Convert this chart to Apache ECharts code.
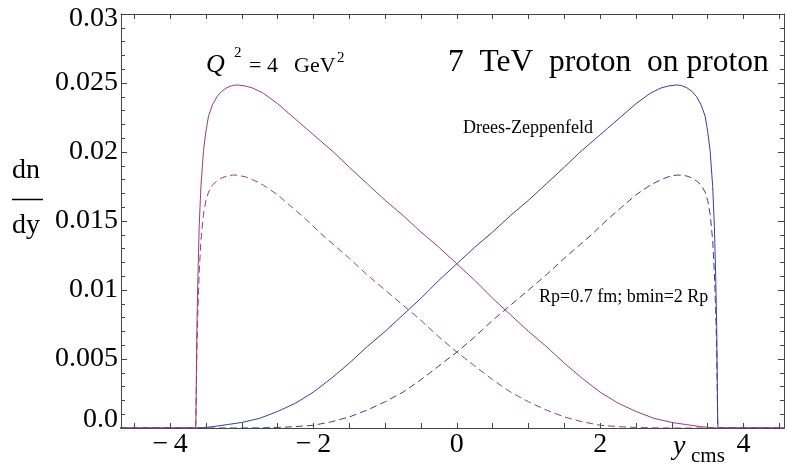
<!DOCTYPE html>
<html>
<head>
<meta charset="utf-8">
<script src="https://cdn.jsdelivr.net/npm/echarts@6/dist/echarts.min.js"></script>
<style>html,body{margin:0;padding:0;background:#fff;}#c{width:787px;height:470px;}</style>
</head>
<body>
<div id="c"></div>
<script>
// ---- data ----
const xRed = [-4.7, -3.645, -3.64, -3.633, -3.626, -3.612, -3.594, -3.57, -3.534, -3.50, -3.464, -3.41, -3.347, -3.28, -3.208, -3.13, -3.06, -2.95, -2.85, -2.7, -2.5, -2.3, -2.1, -1.9, -1.7, -1.5, -1.25, -1.0, -0.75, -0.5, -0.25, 0, 0.25, 0.5, 0.75, 1.0, 1.25, 1.5, 1.75, 2.0, 2.25, 2.5, 2.75, 3.0, 3.2, 3.4, 3.55, 3.64, 4.7];
const redSolid = [0, 0, 0.0005, 0.004, 0.0073, 0.011, 0.0146, 0.0175, 0.0201, 0.0215, 0.0226, 0.0234, 0.0240, 0.0244, 0.02466, 0.02482, 0.02486, 0.02478, 0.02464, 0.02426, 0.02350, 0.0226, 0.0217, 0.0208, 0.0199, 0.0189, 0.0177, 0.0165, 0.0154, 0.0142, 0.0131, 0.0119, 0.0107, 0.0094, 0.0082, 0.0070, 0.0059, 0.0047, 0.0036, 0.0026, 0.0018, 0.0012, 0.0007, 0.0004, 0.00025, 0.0001, 0.00003, 0, 0];
const redDashed = [0, 0, 0.0004, 0.003, 0.0055, 0.0085, 0.0112, 0.0136, 0.0155, 0.0165, 0.0171, 0.0176, 0.0179, 0.01812, 0.01826, 0.01833, 0.01832, 0.0182, 0.0180, 0.0176, 0.0169, 0.0160, 0.0151, 0.0141, 0.0132, 0.0123, 0.0111, 0.0100, 0.0089, 0.0078, 0.0066, 0.0055, 0.0045, 0.0035, 0.0026, 0.0019, 0.0013, 0.0008, 0.00045, 0.0002, 0.0001, 0.00004, 0.00001, 0, 0, 0, 0, 0, 0];
const xBlue = [-4.7, -3.64, -3.55, -3.4, -3.2, -3.0, -2.75, -2.5, -2.25, -2.0, -1.75, -1.5, -1.25, -1.0, -0.75, -0.5, -0.25, 0, 0.25, 0.5, 0.75, 1.0, 1.25, 1.5, 1.7, 1.9, 2.1, 2.3, 2.5, 2.7, 2.85, 2.95, 3.06, 3.13, 3.208, 3.28, 3.347, 3.41, 3.464, 3.50, 3.534, 3.57, 3.594, 3.612, 3.626, 3.633, 3.64, 3.645, 4.7];
const blueSolid = [0, 0, 0.00003, 0.0001, 0.00025, 0.0004, 0.0007, 0.0012, 0.0018, 0.0026, 0.0036, 0.0047, 0.0059, 0.0070, 0.0082, 0.0094, 0.0107, 0.0119, 0.0131, 0.0142, 0.0154, 0.0165, 0.0177, 0.0189, 0.0199, 0.0208, 0.0217, 0.0226, 0.02350, 0.02426, 0.02464, 0.02478, 0.02486, 0.02482, 0.02466, 0.0244, 0.0240, 0.0234, 0.0226, 0.0215, 0.0201, 0.0175, 0.0146, 0.011, 0.0073, 0.004, 0.0005, 0, 0];
const blueDashed = [0, 0, 0, 0, 0, 0, 0.00001, 0.00004, 0.0001, 0.0002, 0.00045, 0.0008, 0.0013, 0.0019, 0.0026, 0.0035, 0.0045, 0.0055, 0.0066, 0.0078, 0.0089, 0.0100, 0.0111, 0.0123, 0.0132, 0.0141, 0.0151, 0.0160, 0.0169, 0.0176, 0.0180, 0.0182, 0.01832, 0.01833, 0.01826, 0.01812, 0.0179, 0.0176, 0.0171, 0.0165, 0.0155, 0.0136, 0.0112, 0.0085, 0.0055, 0.003, 0.0004, 0, 0];
const xTickValues = [-4.5, -4, -3.5, -3, -2.5, -2, -1.5, -1, -0.5, 0, 0.5, 1, 1.5, 2, 2.5, 3, 3.5, 4, 4.5];
const xLabelValues = [-4, -2, 0, 2, 4];
const yLabelMap = {"0": "0.0", "0.005": "0.005", "0.01": "0.01", "0.015": "0.015", "0.02": "0.02", "0.025": "0.025", "0.03": "0.03"};

const RED = '#993d71', BLUE = '#3d3d99', AX = '#444';
const FONT = '"Liberation Serif", "Times New Roman", serif';
const pairs = (xs, ys) => xs.map((x, i) => [x, ys[i]]);

const chart = echarts.init(document.getElementById('c'), null, {renderer: 'canvas'});
const baseX = {
  type: 'value', min: -4.685, max: 4.565,
  axisLine: {show: true, onZero: false, lineStyle: {color: AX, width: 1}},
  axisTick: {show: true, inside: true, length: 5, customValues: xTickValues, lineStyle: {color: AX}},
  splitLine: {show: false}
};
const baseY = {
  type: 'value', min: 0, max: 0.03, interval: 0.005,
  axisLine: {show: true, onZero: false, lineStyle: {color: AX, width: 1}},
  axisTick: {show: true, inside: true, length: 6, lineStyle: {color: AX}},
  minorTick: {show: true, splitNumber: 5, length: 4, lineStyle: {color: AX}},
  splitLine: {show: false}, minorSplitLine: {show: false}
};
const lineSeries = (name, xs, ys, color, dashed) => ({
  name, type: 'line', data: pairs(xs, ys), showSymbol: false, symbol: 'none',
  smooth: false, animation: false, clip: true,
  lineStyle: {color, width: 1, type: dashed ? [7, 4] : 'solid'}
});

chart.setOption({
  animation: false,
  backgroundColor: '#fff',
  grid: {left: 121, right: 3, top: 14, bottom: 42},
  xAxis: [
    Object.assign({}, baseX, {position: 'bottom',
      axisLabel: {show: true, customValues: xLabelValues, margin: 3, color: '#000', fontFamily: FONT, fontSize: 28,
        formatter: v => v < 0 ? '\u2212\u2009' + (-v) : String(v)}}),
    Object.assign({}, baseX, {position: 'top', axisLabel: {show: false}})
  ],
  yAxis: [
    Object.assign({}, baseY, {position: 'left',
      axisLabel: {show: true, margin: 3, color: '#000', fontFamily: FONT, fontSize: 28,
        formatter: v => {
          const k = String(parseFloat(v.toFixed(4)));
          const t = yLabelMap[k] || k;
          if (k === '0') return '{lo|' + t + '}';
          if (k === '0.03') return '{hi|' + t + '}';
          return t;
        },
        rich: {lo: {fontFamily: FONT, fontSize: 28, padding: [0, 0, 17, 0]}, hi: {fontFamily: FONT, fontSize: 28, padding: [10, 0, 0, 0]}}
      }}),
    Object.assign({}, baseY, {position: 'right', axisLabel: {show: false}})
  ],
  series: [
    lineSeries('blue solid', xBlue, blueSolid, BLUE, false),
    lineSeries('red solid', xRed, redSolid, RED, false),
    lineSeries('blue dashed', xBlue, blueDashed, BLUE, true),
    lineSeries('red dashed', xRed, redDashed, RED, true)
  ],
  graphic: [
    {type: 'text', x: 12, y: 171, style: {text: 'dn', font: '28px ' + FONT, fill: '#000', verticalAlign: 'middle'}},
    {type: 'line', shape: {x1: 12, y1: 199.5, x2: 43, y2: 199.5}, style: {stroke: '#000', lineWidth: 1.5}},
    {type: 'text', x: 12, y: 226, style: {text: 'dy', font: '28px ' + FONT, fill: '#000', verticalAlign: 'middle'}},
    {type: 'text', x: 206, y: 65, style: {text: 'Q', font: 'italic 26px ' + FONT, fill: '#000', verticalAlign: 'middle'}},
    {type: 'text', x: 234, y: 53, style: {text: '2', font: '15px ' + FONT, fill: '#000', verticalAlign: 'middle'}},
    {type: 'text', x: 249, y: 66, style: {text: '=', font: '22px ' + FONT, fill: '#000', verticalAlign: 'middle'}},
    {type: 'text', x: 267, y: 66, style: {text: '4', font: '22px ' + FONT, fill: '#000', verticalAlign: 'middle'}},
    {type: 'text', x: 294, y: 66, style: {text: 'GeV', font: '22px ' + FONT, fill: '#000', verticalAlign: 'middle'}},
    {type: 'text', x: 337, y: 58, style: {text: '2', font: '15px ' + FONT, fill: '#000', verticalAlign: 'middle'}},
    {type: 'text', x: 448, y: 63, style: {text: '7  TeV  proton  on proton', font: '31.5px ' + FONT, fill: '#000', verticalAlign: 'middle'}},
    {type: 'text', x: 463, y: 128, style: {text: 'Drees-Zeppenfeld', font: '18px ' + FONT, fill: '#000', verticalAlign: 'middle'}},
    {type: 'text', x: 539, y: 297, style: {text: 'Rp=0.7 fm; bmin=2 Rp', font: '18px ' + FONT, fill: '#000', verticalAlign: 'middle'}},
    {type: 'text', x: 673, y: 447, style: {text: 'y', font: 'italic 28px ' + FONT, fill: '#000', verticalAlign: 'middle'}},
    {type: 'text', x: 691, y: 456, style: {text: 'cms', font: '21px ' + FONT, fill: '#000', verticalAlign: 'middle'}}
  ]
});
</script>
</body>
</html>
